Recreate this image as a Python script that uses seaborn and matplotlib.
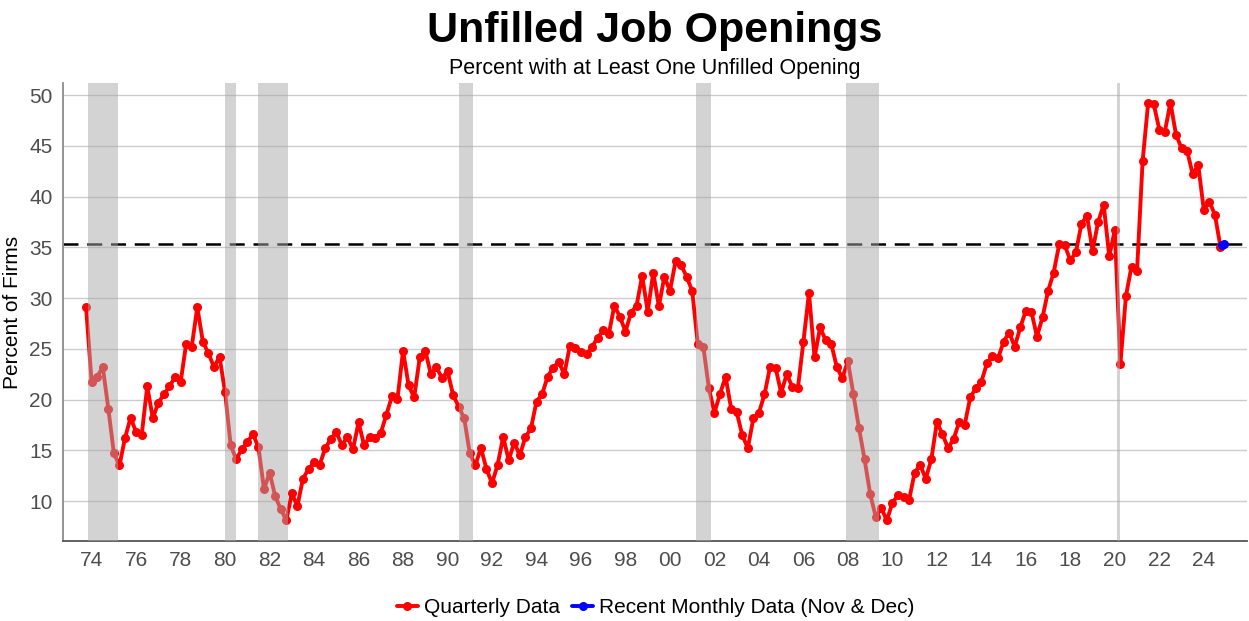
import matplotlib
matplotlib.use("Agg")
import numpy as np
import pandas as pd
import matplotlib.pyplot as plt
import seaborn as sns

# Percent of firms with at least one unfilled opening, quarterly from 1973 Q4 to 2024 Q4
quarter_start = "1973-10-01"
quarterly = [
    29.1, 21.7, 22.25, 23.2, 19.1, 14.7, 13.5, 16.2, 18.2, 16.8,
    16.5, 21.3, 18.15, 19.7, 20.5, 21.3, 22.2, 21.7, 25.5, 25.2,
    29.1, 25.7, 24.55, 23.2, 24.2, 20.7, 15.5, 14.1, 15.1, 15.8,
    16.6, 15.3, 11.15, 12.8, 10.5, 9.2, 8.1, 10.75, 9.5, 12.2,
    13.15, 13.8, 13.55, 15.2, 16.1, 16.8, 15.5, 16.3, 15.1, 17.75,
    15.5, 16.3, 16.2, 16.7, 18.5, 20.3, 20.05, 24.8, 21.4, 20.2,
    24.15, 24.8, 22.5, 23.2, 22.1, 22.8, 20.45, 19.3, 18.15, 14.7,
    13.5, 15.25, 13.15, 11.75, 13.55, 16.3, 14.05, 15.75, 14.5, 16.3,
    17.15, 19.8, 20.5, 22.25, 23.15, 23.7, 22.5, 25.3, 25.1, 24.65,
    24.45, 25.2, 26.1, 26.8, 26.45, 29.25, 28.15, 26.7, 28.55, 29.25,
    32.2, 28.65, 32.5, 29.2, 32.1, 30.7, 33.6, 33.25, 32.1, 30.7,
    25.5, 25.2, 21.1, 18.7, 20.55, 22.25, 19.1, 18.75, 16.5, 15.2,
    18.15, 18.7, 20.5, 23.2, 23.1, 20.65, 22.5, 21.25, 21.1, 25.7,
    30.5, 24.15, 27.1, 25.85, 25.5, 23.2, 22.1, 23.8, 20.5, 17.15,
    14.1, 10.7, 8.45, 9.3, 8.1, 9.8, 10.6, 10.4, 10.1, 12.8,
    13.55, 12.2, 14.1, 17.75, 16.6, 15.2, 16.1, 17.75, 17.5, 20.2,
    21.1, 21.75, 23.55, 24.3, 24.05, 25.7, 26.6, 25.2, 27.1, 28.75,
    28.65, 26.2, 28.1, 30.7, 32.5, 35.3, 35.2, 33.7, 34.5, 37.3,
    38.1, 34.65, 37.5, 39.2, 34.1, 36.7, 23.5, 30.2, 33.1, 32.7,
    43.5, 49.25, 49.1, 46.6, 46.4, 49.25, 46.1, 44.75, 44.5, 42.2,
    43.1, 38.7, 39.5, 38.2, 35.05,
]
monthly_dates = ["2024-11-01", "2024-12-01"]
monthly = [35.2, 35.3]

# NBER recessions (start month, end month)
recessions = [
    ("1973-11-01", "1975-03-01"),
    ("1980-01-01", "1980-07-01"),
    ("1981-07-01", "1982-11-01"),
    ("1990-07-01", "1991-03-01"),
    ("2001-03-01", "2001-11-01"),
    ("2007-12-01", "2009-06-01"),
    ("2020-02-01", "2020-04-01"),
]
tick_years = list(range(1974, 2025, 2))


def decimal_year(d):
    d = pd.to_datetime(d)
    return d.year + (d.month - 1) / 12


q_dates = pd.date_range(quarter_start, periods=len(quarterly), freq="QS")
df_q = pd.DataFrame({"date": decimal_year(q_dates), "value": quarterly})
df_m = pd.DataFrame({"date": decimal_year(pd.DatetimeIndex(monthly_dates)), "value": monthly})

sns.set_style("white")
plt.rcParams["font.family"] = ["Liberation Sans", "DejaVu Sans"]
plt.rcParams["text.color"] = "black"

fig = plt.figure(figsize=(12.49, 6.21), dpi=100)
ax = fig.add_axes([0.0504, 0.1288, 0.9476, 0.7375])

# horizontal grid only
for yv in range(10, 51, 5):
    ax.axhline(yv, color="#cccccc", lw=1.0, zorder=0)

ax.axhline(monthly[-1], color="black", lw=1.8, ls=(0, (6, 3.5)), zorder=2)

sns.lineplot(data=df_q, x="date", y="value", color="red", marker="o",
             markersize=6.5, markeredgewidth=0, linewidth=2.8,
             label="Quarterly Data", ax=ax, zorder=3)
sns.lineplot(data=df_m, x="date", y="value", color="blue", marker="o",
             markersize=6.5, markeredgewidth=0, linewidth=2.8,
             label="Recent Monthly Data (Nov & Dec)", ax=ax, zorder=4)

# recession bands sit on top of the line, like the original
for start, end in recessions:
    ax.axvspan(decimal_year(start), decimal_year(end), color="#a8a8a8",
               alpha=0.5, lw=0, zorder=5)

ax.set_xlim(1972.71, 2025.92)
ax.set_ylim(6.06, 51.18)
ax.set_xticks(tick_years)
ax.set_xticklabels([f"{y % 100:02d}" for y in tick_years])
ax.set_yticks(range(10, 51, 5))
ax.tick_params(axis="both", labelsize=15, labelcolor="#4d4d4d",
               length=4, width=1, color="#555555", direction="out")
ax.tick_params(axis="x", pad=3)
ax.set_xlabel("")
ax.set_ylabel("Percent of Firms", fontsize=15, color="black", labelpad=5)

for side in ["top", "right"]:
    ax.spines[side].set_visible(False)
ax.spines["left"].set_color("#8c8c8c")
ax.spines["left"].set_linewidth(1.3)
ax.spines["bottom"].set_color("#555555")
ax.spines["bottom"].set_linewidth(1.3)

fig.text(0.524, 0.950, "Unfilled Job Openings", ha="center", va="center",
         fontsize=31, fontweight="bold", color="black")
fig.text(0.524, 0.889, "Percent with at Least One Unfilled Opening",
         ha="center", va="center", fontsize=15.5, color="black")

handles, labels = ax.get_legend_handles_labels()
ax.get_legend().remove()
fig.legend(handles, labels, loc="center", bbox_to_anchor=(0.525, 0.022),
           ncol=2, frameon=False, fontsize=15, handlelength=1.0,
           handletextpad=0.3, columnspacing=0.6, labelcolor="black")

fig.savefig("out.png", dpi=100)
